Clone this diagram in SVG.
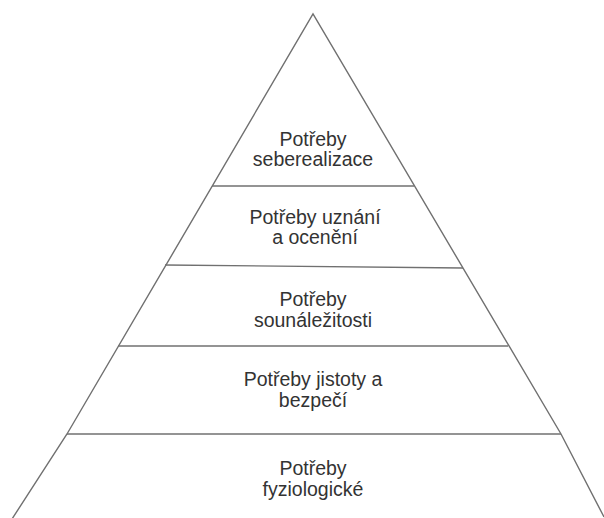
<svg xmlns="http://www.w3.org/2000/svg" width="604" height="518" viewBox="0 0 604 518">
<style>
.ln{stroke:#707070;stroke-width:1.4;fill:none}
text{font-family:"Liberation Sans",Arial,sans-serif;font-size:19.5px;fill:#333;text-anchor:middle}
</style>
<rect width="604" height="518" fill="#fff"/>
<g id="connectors">
<polyline class="ln" points="12,519 67,434 313,14 561,434 604,517"/>
<line class="ln" x1="212" y1="186" x2="414" y2="186"/>
<line class="ln" x1="165" y1="265" x2="463" y2="268"/>
<line class="ln" x1="118" y1="346" x2="508" y2="346"/>
<line class="ln" x1="67" y1="434" x2="561" y2="434"/>
</g>
<g id="level5"><text x="313" y="146">Potřeby</text><text x="313" y="166">seberealizace</text></g>
<g id="level4"><text x="315" y="224">Potřeby uznání</text><text x="315" y="244">a ocenění</text></g>
<g id="level3"><text x="313" y="306">Potřeby</text><text x="313" y="327">sounáležitosti</text></g>
<g id="level2"><text x="313" y="386">Potřeby jistoty a</text><text x="313" y="407">bezpečí</text></g>
<g id="level1"><text x="313" y="475">Potřeby</text><text x="313" y="496">fyziologické</text></g>
</svg>
